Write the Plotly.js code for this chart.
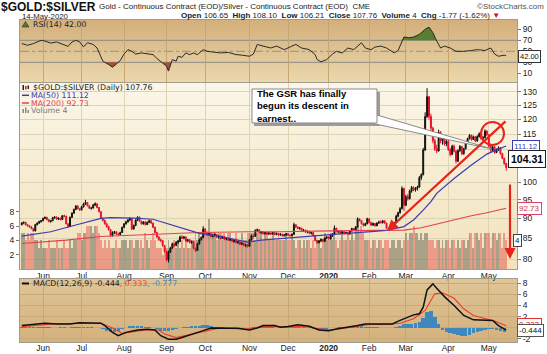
<!DOCTYPE html>
<html><head><meta charset="utf-8">
<script src="https://cdn.plot.ly/plotly-3.0.1.min.js"></script>
<style>html,body{margin:0;padding:0;background:#fff}#chart{width:547px;height:354px}</style>
</head><body><div id="chart"></div>
<script>
// ---- data (trading-day index 0 = 16-May-2019 ... 251 = 14-May-2020) ----
const monthIdx = [11,31,53,75,95,118,138,159,180,199,221,242];
const monthLbl = ['Jun','Jul','Aug','Sep','Oct','Nov','Dec','<b>2020</b>','Feb','Mar','Apr','May'];
const priceTicks = [80,85,90,95,100,105,110,115,120,125,130];
const priceTickText = ['80','85','90','95','100','','','115','120','125','130'];
const macdTicks = [-2,0,2,4,6,8];
const macdTickText = ['-2','','2','4','6','8'];

const open = [88.4,88.9,89.0,88.4,88.1,87.8,87.4,86.8,88.4,88.8,
89.2,89.4,90.0,90.3,89.7,89.2,89.4,90.2,90.4,89.8,
90.1,89.7,90.7,90.6,88.6,87.9,90.3,91.4,92.4,93.3,
92.6,92.3,93.1,93.9,94.3,93.4,92.7,92.8,93.6,93.9,
92.9,91.8,90.0,89.5,88.6,87.9,87.1,85.6,86.4,86.6,
86.0,85.9,86.4,87.7,88.6,89.1,89.6,90.0,87.3,88.2,
89.6,90.3,89.3,88.6,89.1,88.4,89.0,89.4,88.8,87.7,
86.4,85.3,84.6,84.4,83.2,81.8,79.8,81.7,82.6,83.6,
83.2,84.0,84.2,85.3,85.0,85.3,84.3,84.6,83.9,84.1,
82.5,82.0,83.6,84.6,85.2,87.3,86.3,85.8,86.1,85.4,
85.7,85.9,85.2,85.5,84.9,85.4,84.7,85.0,84.5,84.8,
84.2,84.4,83.9,84.1,83.5,83.8,83.2,83.4,83.0,84.6,
85.6,85.4,86.9,87.1,86.4,86.6,86.1,86.4,86.0,86.3,
86.0,86.4,85.9,86.2,85.8,86.0,85.6,85.8,86.1,85.7,
85.6,85.9,88.4,87.8,87.4,87.5,86.9,87.0,86.5,86.7,
86.2,86.4,85.6,84.4,83.9,84.3,84.7,84.2,85.0,85.3,
84.8,85.7,86.0,87.5,86.6,86.7,86.3,86.6,86.1,86.4,
86.0,86.8,87.4,87.0,87.8,89.9,89.5,88.7,88.2,88.6,
89.9,89.0,88.3,88.7,88.1,88.8,89.1,88.9,89.4,88.8,
87.5,87.2,87.8,88.4,88.9,90.6,91.5,92.6,98.2,93.5,
95.9,95.3,97.5,98.5,97.8,98.2,98.6,101.3,102.2,109.8,
121.0,128.2,121.0,117.0,112.8,110.2,109.5,115.6,112.8,114.3,
111.8,112.6,110.0,108.4,111.0,109.4,106.3,109.6,110.9,108.6,
110.2,112.3,113.5,114.6,113.2,114.1,112.7,114.2,115.1,113.5,
113.9,116.0,114.8,111.0,109.7,110.8,109.0,110.0,110.5,108.7,
107.2,105.6];
const high = [89.0,89.2,89.1,88.6,88.3,88.0,87.5,88.6,89.0,89.4,
89.6,90.2,90.5,90.4,89.8,89.6,90.4,90.6,90.5,90.3,
90.2,90.9,91.0,90.7,88.8,90.5,91.6,92.6,93.6,93.5,
92.8,93.4,94.2,95.0,94.4,93.5,93.0,93.9,94.3,94.0,
93.0,91.9,90.2,89.7,88.9,88.1,87.3,86.7,86.8,86.7,
86.3,86.6,87.9,88.8,89.4,89.9,90.3,90.1,88.4,89.8,
90.6,90.5,89.4,89.3,89.3,89.2,89.7,89.5,88.9,87.9,
86.6,85.5,84.9,84.5,83.3,82.0,82.0,82.9,83.9,83.8,
84.3,84.6,85.6,85.8,85.5,85.4,84.8,84.7,84.4,84.2,
82.7,83.9,84.9,85.4,88.0,87.5,86.7,86.4,86.3,86.0,
86.2,86.0,85.7,85.6,85.6,85.5,85.2,85.1,85.0,84.9,
84.6,84.5,84.3,84.2,84.0,83.9,83.6,83.5,84.8,85.9,
86.0,87.2,87.4,87.2,86.8,86.7,86.6,86.5,86.5,86.5,
86.6,86.5,86.4,86.3,86.2,86.1,86.0,86.3,86.2,86.0,
86.1,88.9,88.5,88.0,87.8,87.6,87.3,87.1,86.9,86.8,
86.6,86.5,85.7,84.6,84.5,84.9,84.8,85.2,85.5,85.4,
85.9,86.2,88.2,87.6,86.9,86.8,86.8,86.7,86.6,86.5,
87.0,87.6,87.5,88.0,90.3,90.0,89.6,88.9,88.9,90.2,
90.0,89.1,88.9,88.8,89.0,89.4,89.5,89.6,89.5,88.9,
87.6,88.0,88.6,89.1,91.0,91.8,93.0,98.8,98.4,96.4,
96.6,97.9,98.9,98.8,98.6,99.0,101.8,102.6,110.5,122.5,
131.4,128.5,122.0,117.5,113.5,111.5,116.5,116.0,114.8,114.5,
113.2,113.0,110.4,111.5,111.6,109.8,110.0,111.4,111.1,110.5,
112.6,113.8,115.0,114.8,114.5,114.3,114.6,115.6,115.3,114.3,
116.6,116.3,115.0,111.4,111.2,111.0,110.3,111.0,110.7,108.9,
107.4,105.8];
const low = [88.2,88.5,88.2,87.9,87.6,87.2,86.6,86.7,88.2,88.6,
88.9,89.3,89.8,89.5,89.0,88.9,89.3,89.9,89.6,89.6,
89.5,89.6,90.3,88.5,87.6,87.8,90.1,91.2,92.2,92.4,
92.0,92.1,92.9,93.6,93.2,92.5,92.3,92.6,93.3,92.7,
91.6,89.8,89.2,88.4,87.6,86.9,85.3,85.4,86.0,85.8,
85.6,85.7,86.3,87.5,88.4,88.9,89.3,87.0,87.1,88.0,
89.3,89.1,88.4,88.4,88.2,88.3,88.8,88.6,87.5,86.1,
85.1,84.3,84.0,82.9,81.5,79.4,79.2,81.4,82.4,82.9,
83.0,83.6,84.0,84.8,84.7,84.1,84.0,83.7,83.6,82.3,
81.6,81.9,83.4,84.4,85.0,86.0,85.5,85.6,85.2,85.2,
85.4,85.0,84.9,84.7,84.8,84.5,84.5,84.3,84.3,84.0,
83.9,83.7,83.6,83.3,83.3,83.0,82.8,82.7,82.9,84.4,
85.1,85.3,86.6,86.2,86.0,85.9,85.9,85.8,85.8,85.8,
85.9,85.7,85.7,85.6,85.6,85.4,85.4,85.6,85.5,85.4,
85.5,85.8,87.5,87.2,87.1,86.7,86.6,86.3,86.2,86.0,
85.9,85.4,84.2,83.6,83.7,84.0,84.0,84.1,84.7,84.6,
84.7,85.3,85.8,86.4,86.2,86.0,86.1,85.9,86.0,85.8,
85.9,86.6,86.8,86.9,87.7,89.2,88.4,87.9,88.0,88.5,
88.7,88.0,88.1,87.9,88.0,88.6,88.7,88.7,88.6,87.3,
86.9,87.0,87.6,88.2,88.8,90.3,91.3,92.4,92.0,93.3,
94.8,95.1,97.0,97.4,97.3,97.6,98.4,100.6,102.0,109.5,
120.5,120.0,116.0,112.0,109.5,108.8,109.3,112.0,111.5,111.2,
111.0,109.5,107.8,108.2,109.0,105.6,106.0,109.2,108.2,108.3,
110.0,112.0,113.2,112.8,113.0,112.3,112.5,113.8,113.0,112.8,
113.6,114.4,110.6,109.2,109.4,108.6,108.8,109.5,108.3,106.9,
105.2,103.4];
const close = [88.9,89.0,88.4,88.1,87.8,87.4,86.8,88.4,88.8,89.2,
89.4,90.0,90.3,89.7,89.2,89.4,90.2,90.4,89.8,90.1,
89.7,90.7,90.6,88.6,87.9,90.3,91.4,92.4,93.3,92.6,
92.3,93.1,93.9,94.3,93.4,92.7,92.8,93.6,93.9,92.9,
91.8,90.0,89.5,88.6,87.9,87.1,85.6,86.4,86.6,86.0,
85.9,86.4,87.7,88.6,89.1,89.6,90.0,87.3,88.2,89.6,
90.3,89.3,88.6,89.1,88.4,89.0,89.4,88.8,87.7,86.4,
85.3,84.6,84.4,83.2,81.8,79.8,81.7,82.6,83.6,83.2,
84.0,84.2,85.3,85.0,85.3,84.3,84.6,83.9,84.1,82.5,
82.0,83.6,84.6,85.2,87.3,86.3,85.8,86.1,85.4,85.7,
85.9,85.2,85.5,84.9,85.4,84.7,85.0,84.5,84.8,84.2,
84.4,83.9,84.1,83.5,83.8,83.2,83.4,83.0,84.6,85.6,
85.4,86.9,87.1,86.4,86.6,86.1,86.4,86.0,86.3,86.0,
86.4,85.9,86.2,85.8,86.0,85.6,85.8,86.1,85.7,85.6,
85.9,88.4,87.8,87.4,87.5,86.9,87.0,86.5,86.7,86.2,
86.4,85.6,84.4,83.9,84.3,84.7,84.2,85.0,85.3,84.8,
85.7,86.0,87.5,86.6,86.7,86.3,86.6,86.1,86.4,86.0,
86.8,87.4,87.0,87.8,89.9,89.5,88.7,88.2,88.6,89.9,
89.0,88.3,88.7,88.1,88.8,89.1,88.9,89.4,88.8,87.5,
87.2,87.8,88.4,88.9,90.6,91.5,92.6,98.2,93.5,95.9,
95.3,97.5,98.5,97.8,98.2,98.6,101.3,102.2,109.8,121.0,
128.2,121.0,117.0,112.8,110.2,109.5,115.6,112.8,114.3,111.8,
112.6,110.0,108.4,111.0,109.4,106.3,109.6,110.9,108.6,110.2,
112.3,113.5,114.6,113.2,114.1,112.7,114.2,115.1,113.5,113.9,
116.0,114.8,111.0,109.7,110.8,109.0,110.0,110.5,108.7,107.2,
105.6,104.3];
const volume = [5,5,4,5,4,5,5, 4,4,3,4,3, 3,3,4,3,3,3,4,3,3,3,4,3,3,4,3,4,4, 5,5,4,5,5,6, 6,6,5,6,6,5,
4,3,4,3,4, 3,3,3,4,3,3, 4,4,4,3,4, 4,3,4,4,3,4,3,5,4,3,4,5,4,3, 3,3,2,3,3,4,3,3,4,3,4,
3,4,3,4,3,3,4,4,5, 4,5,4,5,5,5,7,5,5, 5,4,5,5,4,5,4,5,5,4,4,5,4,4,5,4,4,5, 5,5,5,4,5,5,5,4,5,5,4,
4,5,4,4,5,4,4,4,5,4,4,5, 4,3,4,4,3,4,3,4,4,3,4,3,4,4,3, 4,5,4,4,5,4,5,4,3,4,5,4,4,5,4,5,4, 6,6,5,6,5,
4,4,4,3,4,4,3,4,4,3,4,4, 4,3,4,4,3,4,4,3,4, 5,4,5,5,6,5,5,4,5,4,5,5,4, 4,4,3,4,4,3,4,3,4,4,3,4,
4,3,4,3,4,4,3,4,5, 5,3,5,5,4,5,3,5,5,5,3,5,5,4,5,5,3,5,4];

const ma50X = [0,15,28,41,46,58,68,75,84,92,103,110,117,124,134,146,163,181,189,198,203,208,212,215,224,233,241,245,251];
const ma50V = [85.5,86.6,88.3,90.0,90.2,90.1,89.8,88.7,87.5,86.2,85.4,84.7,84.0,84.5,84.9,85.4,86.0,86.6,86.9,87.9,89.6,92.2,94.5,96.8,101.1,105.1,108.5,109.6,111.1];
const ma200X = [0,23,41,67,92,118,134,160,190,198,207,215,224,233,241,251];
const ma200V = [83.7,84.5,85.4,86.0,86.4,86.6,86.6,86.8,86.9,87.0,87.6,88.6,89.6,90.7,91.5,92.7];

const rsiX = [0,3,6,8,10,12,15,18,21,24,26,28,30,32,34,37,39,41,42,45,47,49,51,53,55,57,59,62,65,68,70,72,75,76,78,80,81,83,85,87,89,91,94,96,99,103,107,111,114,118,120,122,125,129,132,136,140,142,145,149,152,153,155,158,161,163,166,169,172,174,176,178,181,183,186,189,192,193,195,197,198,201,203,206,209,211,213,215,217,219,222,225,229,233,236,240,243,245,247,250,251];
const rsiV = [64,61,64,67,70,68.6,65,67,62.5,59,67,70,67,58,65.6,62.5,56,41,32,26,21,27,33,45,53,50,45,47,46,44,37,32,23,14,35,32,41,39,47,44,47,44,53,50,49,47,48,44,43,41,45,62.5,59.5,56,59.5,53,59.5,62.5,56,53,44,35,31,35,45,50,47,56,53,59.5,65.6,56,53,57.6,59.5,56,50,47,51.5,68.6,76,74.7,76,80.8,90,94,84,68.6,56,59.5,56,50,50,51.5,53,51.5,56,45,41,43,42];
const obX = [197.2,198,201,203,206,209,211,213,214.8];
const obV = [70,76,74.7,76,80.8,90,94,84,70];
const os1X = [43,45,47,49,50];
const os1V = [30,26,21,27,30];
const os2X = [72.7,75,76,77.5];
const os2V = [30,23,14,30];

const macdX = [0,7,12,18,25,30,36,41,43,47,50,54,60,65,69,72,76,80,83,89,94,98,105,112,118,122,125,131,134,138,143,149,154,159,163,169,174,178,181,187,192,196,200,203,206,208,210,213,215,219,224,229,234,240,244,247,251];
const macdV = [0.37,0.55,0.8,0.67,0.67,0.86,0.86,0.8,0.37,-0.86,-1.47,-0.86,-0.43,-0.3,-0.43,-1.47,-2.1,-2.1,-1.8,-1.17,-0.55,-0.06,-0.06,-0.12,-0.43,-0.06,0.37,0.37,0.06,0.18,0.5,0.25,-0.43,-0.55,-0.25,0.06,0.37,0.67,0.67,0.55,0.67,1.3,1.9,2.3,2.5,3.7,6.8,7.9,7.1,5.6,4.0,2.2,1.4,1.3,1.3,0.37,-0.44];
const sigX = [0,16,34,41,47,52,58,65,71,74,80,87,94,102,116,125,134,145,152,160,171,180,189,196,203,209,214,218,224,229,234,240,245,251];
const sigV = [0.18,0.67,0.8,0.8,-0.06,-1.04,-0.74,-0.37,-0.43,-1.17,-1.8,-1.3,-0.74,-0.12,-0.25,0.18,0.18,0.25,-0.12,-0.43,0.06,0.55,0.55,0.8,1.6,3.1,6.1,6.3,5.3,3.4,2.2,1.6,1.2,0.33];
const histV = [0.2,0.2,0.15,0.1,0.1,0.05,
0.1,0.05,0.0,0.0,0.05,0.05,-0.05,0.05,0.1,0.1,0.05,0.05,0.05,0.0,-0.05,
-0.3,-0.6,-0.8,-0.8,-0.6,-0.3,0.0,0.25,0.35,0.35,0.3,0.2,0.1,0.0,
-0.3,-0.6,-0.7,-0.6,-0.4,-0.2,-0.1,0.05,0.15,0.25,0.3,0.35,0.45,0.4,0.3,0.2,0.1,0.05,0.0,-0.05,-0.1,-0.15,-0.15,-0.1,
0.0,0.1,0.2,0.25,0.2,0.15,0.05,0.0,-0.05,0.05,0.1,0.1,0.2,0.2,0.15,0.0,-0.1,-0.25,-0.35,-0.3,-0.2,-0.1,
0.0,0.05,0.05,0.1,0.15,0.15,0.25,0.3,0.2,0.15,0.1,0.05,0.0,-0.05,-0.15,-0.1,0.1,0.3,0.6,0.7,0.7,0.8,1.0,1.8,2.8,3.0,2.0,0.6,
-0.4,-0.8,-1.0,-1.2,-1.4,-1.5,-1.45,-1.3,-1.0,-0.8,-0.6,-0.4,-0.3,-0.2,-0.4,-0.6,-0.75];

// ---- geometry helpers (pixel -> paper) ----
const W=547,H=354,ML=20,MR=30,MT=20,MB=12;
const PW=W-ML-MR, PH=H-MT-MB;
const px = x => (x-ML)/PW;
const py = y => (H-MB-y)/PH;

const idx = close.map((_,i)=>i);
const histX = histV.map((_,i)=>i*2);
const volColors = close.map((c,i)=> c>=open[i] ? 'rgba(92,88,76,0.48)' : 'rgba(228,70,70,0.46)');

const SANS = 'Liberation Sans, Arial, sans-serif';
const VER = 'DejaVu Sans, Verdana, sans-serif';

const traces = [
 {type:'bar', x:idx, y:volume, xaxis:'x', yaxis:'y2', width:1, marker:{color:volColors, line:{width:0}}, hoverinfo:'skip'},
 {type:'scatter', mode:'lines', x:ma200X, y:ma200V, xaxis:'x', yaxis:'y3', line:{color:'#e2404f', width:1.1}, hoverinfo:'skip'},
 {type:'scatter', mode:'lines', x:ma50X, y:ma50V, xaxis:'x', yaxis:'y3', line:{color:'#3b3bb3', width:1.2}, hoverinfo:'skip'},
 {type:'candlestick', x:idx, open:open, high:high, low:low, close:close, xaxis:'x', yaxis:'y3',
  increasing:{line:{color:'#111', width:1}, fillcolor:'#111'},
  decreasing:{line:{color:'#e3122c', width:1}, fillcolor:'#e3122c'}, hoverinfo:'skip'},
 {type:'scatter', mode:'lines', x:obX, y:obV, xaxis:'x2', yaxis:'y', fill:'toself', fillcolor:'#5a7d31', line:{width:0}, hoverinfo:'skip'},
 {type:'scatter', mode:'lines', x:os1X, y:os1V, xaxis:'x2', yaxis:'y', fill:'toself', fillcolor:'#a3503a', line:{width:0}, hoverinfo:'skip'},
 {type:'scatter', mode:'lines', x:os2X, y:os2V, xaxis:'x2', yaxis:'y', fill:'toself', fillcolor:'#a3503a', line:{width:0}, hoverinfo:'skip'},
 {type:'scatter', mode:'lines', x:rsiX, y:rsiV, xaxis:'x2', yaxis:'y', line:{color:'#2a2a2a', width:1}, hoverinfo:'skip'},
 {type:'bar', x:histX, y:histV, xaxis:'x3', yaxis:'y4', width:1.8, marker:{color:'#3f88bd', line:{width:0}}, hoverinfo:'skip'},
 {type:'scatter', mode:'lines', x:sigX, y:sigV, xaxis:'x3', yaxis:'y4', line:{color:'#ee3a2c', width:1.1}, hoverinfo:'skip'},
 {type:'scatter', mode:'lines', x:macdX, y:macdV, xaxis:'x3', yaxis:'y4', line:{color:'#111', width:1.5}, hoverinfo:'skip'}
];

function grad(top,bot){
  const s = '<svg xmlns="http://www.w3.org/2000/svg" width="10" height="100" viewBox="0 0 10 100" preserveAspectRatio="none"><defs><linearGradient id="g" x1="0" y1="0" x2="0" y2="1"><stop offset="0" stop-color="'+top+'"/><stop offset="1" stop-color="'+bot+'"/></linearGradient></defs><rect width="10" height="100" fill="url(#g)"/></svg>';
  return 'data:image/svg+xml;charset=utf-8,' + encodeURIComponent(s);
}
function bgImg(top,bot,yTop,yBot){
  return {source:grad(top,bot), xref:'paper', yref:'paper', x:0, y:py(yTop), sizex:1, sizey:py(yTop)-py(yBot), sizing:'stretch', xanchor:'left', yanchor:'top', layer:'below'};
}

const AX = '#a29c8f';
const xCommon = {tickmode:'array', tickvals:monthIdx, ticktext:monthLbl, ticks:'', zeroline:false, showline:true, linecolor:AX, mirror:true, showgrid:true, tickfont:{family:SANS, size:8.5, color:'#222'}, fixedrange:true};

function A(text,x,y,o){
  o=o||{};
  return Object.assign({xref:'paper', yref:'paper', x:px(x), y:py(y), text:text, showarrow:false, xanchor:'left', yanchor:'middle',
    font:{family:o.family||SANS, size:o.size||8, color:o.color||'#222'}, align:'left'}, o.extra||{});
}
function tag(text,x,y,color,border,size,bold){
  return {xref:'paper', yref:'paper', x:px(x), y:py(y), text:text, showarrow:false, xanchor:'left', yanchor:'middle',
    font:{family:SANS, size:size||8, color:color}, bgcolor:'#ffffff', bordercolor:border, borderwidth:1, borderpad:bold?2:1};
}

const annotations = [
 A('<b>$GOLD:$SILVER</b>', 0, 6.5, {size:12, color:'#111', extra:{borderpad:0}}),
 A('Gold - Continuous Contract (EOD)/Silver - Continuous Contract (EOD)  CME', 97, 7, {size:8}),
 A('©StockCharts.com', 546, 6, {size:8, color:'#555', extra:{xanchor:'right'}}),
 A('14-May-2020', 21, 16.5, {size:7.8, extra:{borderpad:0}}),
 A('<b>Open</b> 106.65  <b>High</b> 108.10  <b>Low</b> 106.21  <b>Close</b> 107.76  <b>Volume</b> 4  <b>Chg</b> -1.77 (-1.62%) <span style="color:#d4102a">▼</span>', 502, 16, {size:8, extra:{xanchor:'right'}}),
 A('RSI(14) 42.00', 31, 25, {family:VER, size:7.8}),
 A('$GOLD:$SILVER (Daily) 107.76', 31, 87.5, {family:VER, size:7.8}),
 A('MA(50) 111.12', 29, 95.3, {family:VER, size:7.8, color:'#3b3bb3'}),
 A('MA(200) 92.73', 29, 103, {family:VER, size:7.8, color:'#e2404f'}),
 A('Volume 4', 29, 110.5, {family:VER, size:7.8, color:'#7a7a7a'}),
 A('MACD(12,26,9) -0.444<span style="color:#e8382c">, 0.333</span><span style="color:#3a8ec8">, -0.777</span>', 31, 283.5, {family:VER, size:7.8}),
 A('<b>The GSR has finally<br>begun its descent in<br>earnest..</b>', 255, 106, {size:9.5, color:'#000'}),
 {xref:'paper', yref:'paper', x:px(387), y:py(231), ax:120, ay:-111, text:'', showarrow:true, arrowhead:2, arrowsize:1, arrowwidth:2.2, arrowcolor:'#e8231c', standoff:0},
 {xref:'paper', yref:'paper', x:px(510), y:py(259), ax:0, ay:-76, text:'', showarrow:true, arrowhead:2, arrowsize:1, arrowwidth:2.2, arrowcolor:'#e8231c', standoff:0},
 tag('42.00', 518, 56, '#111', '#333', 7.5),
 tag('111.12', 512, 146, '#3b3bb3', '#3b3bb3'),
 tag('92.73', 517, 208, '#c43452', '#e0406a'),
 tag('4', 513, 240, '#222', '#444'),
 tag('0.333', 517, 324, '#d42020', '#e03030'),
 tag('-0.444', 517, 330, '#111', '#555'),
 tag('<b>104.31</b>', 508, 159, '#000', '#222', 10.5, true)
];

const shapes = [
 {type:'line', xref:'paper', yref:'y', x0:0, x1:1, y0:70, y1:70, line:{color:'#8a8a84', width:1}, layer:'below'},
 {type:'line', xref:'paper', yref:'y', x0:0, x1:1, y0:30, y1:30, line:{color:'#8a8a84', width:1}, layer:'below'},
 {type:'line', xref:'paper', yref:'y', x0:0, x1:1, y0:50, y1:50, line:{color:'#9a927e', width:1, dash:'dashdot'}, layer:'below'},
 // legend icons
 {type:'path', xref:'paper', yref:'paper', path:'M '+px(22)+' '+py(27)+' L '+px(25.5)+' '+py(21.5)+' L '+px(29)+' '+py(27)+' Z', fillcolor:'#4f7a2a', line:{color:'#333', width:0.6}},
 {type:'rect', xref:'paper', yref:'paper', x0:px(22.5), x1:px(24), y0:py(90), y1:py(85), fillcolor:'#222', line:{width:0}},
 {type:'rect', xref:'paper', yref:'paper', x0:px(25), x1:px(26.5), y0:py(89.5), y1:py(86), fillcolor:'#e3122c', line:{width:0}},
 {type:'rect', xref:'paper', yref:'paper', x0:px(27.5), x1:px(29), y0:py(89), y1:py(85.5), fillcolor:'#222', line:{width:0}},
 {type:'line', xref:'paper', yref:'paper', x0:px(22), x1:px(29), y0:py(95.3), y1:py(95.3), line:{color:'#3b3bb3', width:1.5}},
 {type:'line', xref:'paper', yref:'paper', x0:px(22), x1:px(29), y0:py(103), y1:py(103), line:{color:'#e2404f', width:1.5}},
 {type:'rect', xref:'paper', yref:'paper', x0:px(22.5), x1:px(24), y0:py(113), y1:py(109), fillcolor:'#888', line:{width:0}},
 {type:'rect', xref:'paper', yref:'paper', x0:px(25), x1:px(26.5), y0:py(113), y1:py(107.5), fillcolor:'#888', line:{width:0}},
 {type:'rect', xref:'paper', yref:'paper', x0:px(27.5), x1:px(29), y0:py(113), y1:py(110), fillcolor:'#888', line:{width:0}},
 {type:'line', xref:'paper', yref:'paper', x0:px(22), x1:px(29), y0:py(283.5), y1:py(283.5), line:{color:'#111', width:2}},
 // call-out box
 {type:'rect', xref:'paper', yref:'paper', x0:px(254), x1:px(380), y0:py(126), y1:py(92), fillcolor:'#9c9c9c', line:{width:0}},
 {type:'path', xref:'paper', yref:'paper', path:'M '+px(366)+' '+py(122)+' L '+px(492)+' '+py(149)+' L '+px(377)+' '+py(115)+' Z', fillcolor:'#ffffff', line:{color:'#8a8a8a', width:1}},
 {type:'rect', xref:'paper', yref:'paper', x0:px(252), x1:px(377), y0:py(123), y1:py(89), fillcolor:'#ffffff', line:{color:'#8a8a8a', width:1}},
 {type:'circle', xref:'paper', yref:'paper', x0:px(481), x1:px(504), y0:py(145), y1:py(122), line:{color:'#e8231c', width:2}}
];

const layout = {
 width:W, height:H, margin:{l:ML, r:MR, t:MT, b:MB, pad:0},
 paper_bgcolor:'#ffffff', plot_bgcolor:'rgba(0,0,0,0)', showlegend:false,
 font:{family:SANS, size:8, color:'#222'},
 bargap:0,
 xaxis: Object.assign({}, xCommon, {domain:[0,1], anchor:'y2', range:[-0.93,256.6], gridcolor:'#ddd4b6', rangeslider:{visible:false}, ticklabelstandoff:-1}),
 xaxis2: Object.assign({}, xCommon, {anchor:'y', matches:'x', showticklabels:false, gridcolor:'#c6a673'}),
 xaxis3: Object.assign({}, xCommon, {anchor:'y4', matches:'x', gridcolor:'#c6a673', ticklabelstandoff:-2}),
 yaxis: {domain:[py(82),1], range:[-5.8,106.9], side:'right', tickmode:'array', tickvals:[10,30,50,70,90], ticks:'outside', ticklen:3, tickcolor:'#777', showgrid:false, zeroline:false, showline:true, mirror:true, linecolor:AX, tickfont:{family:SANS, size:8.5, color:'#222'}, fixedrange:true},
 yaxis2: {domain:[py(269),py(83)], anchor:'x', range:[0,26], side:'left', tickmode:'array', tickvals:[2,4,6,8], ticks:'outside', ticklen:3, tickcolor:'#777', showgrid:false, zeroline:false, showline:true, mirror:true, linecolor:AX, tickfont:{family:SANS, size:8.5, color:'#222'}, fixedrange:true},
 yaxis3: {overlaying:'y2', anchor:'x', type:'log', range:[Math.log10(77.71), Math.log10(133.4)], side:'right', tickmode:'array', tickvals:priceTicks, ticktext:priceTickText, ticks:'outside', ticklen:3, tickcolor:'#777', showgrid:true, gridcolor:'#dcd3b8', zeroline:false, tickfont:{family:SANS, size:8.5, color:'#222'}, fixedrange:true},
 yaxis4: {domain:[0,py(279)], anchor:'x3', range:[-2.6,8.78], side:'right', tickmode:'array', tickvals:macdTicks, ticktext:macdTickText, ticks:'outside', ticklen:3, tickcolor:'#777', showgrid:true, gridcolor:'#c8aa78', zeroline:false, showline:true, mirror:true, linecolor:AX, tickfont:{family:SANS, size:8.5, color:'#222'}, fixedrange:true},
 images: [
  bgImg('#d3af7b','#ebd7ac',20,82),
  bgImg('#fbf6e8','#f1e2ba',83,269),
  bgImg('#e0c596','#d3b17d',279,342)
 ],
 shapes: shapes,
 annotations: annotations
};

Plotly.newPlot('chart', traces, layout, {staticPlot:true, displayModeBar:false});
</script>
</body></html>
